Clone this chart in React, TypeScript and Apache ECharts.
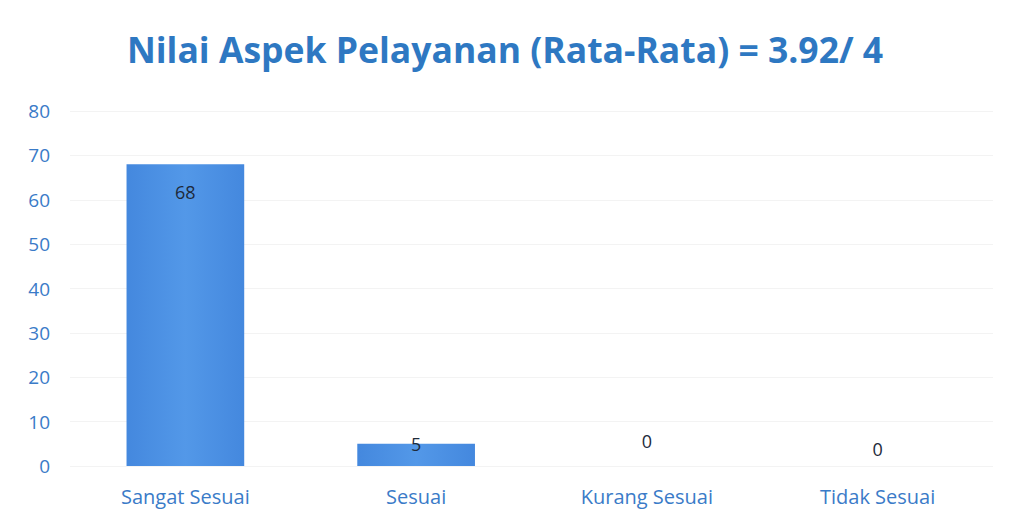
import React, { useEffect, useRef } from "react";
import * as echarts from "echarts";

const categories = ["Sangat Sesuai", "Sesuai", "Kurang Sesuai", "Tidak Sesuai"];
const values = [68, 5, 0, 0];
const titleText = "Nilai Aspek Pelayanan (Rata-Rata) = 3.92/ 4";

export default function App() {
  const ref = useRef<HTMLDivElement>(null);
  useEffect(() => {
    const chart = echarts.init(ref.current!, null, { renderer: "svg" });
    const data = values.map((v, i) => {
      if (i === 0) {
        return { value: v, label: { show: true, position: "insideTop", distance: 19 } };
      }
      if (i === 1) {
        return { value: v, label: { show: true, position: "top", distance: -9 } };
      }
      return { value: v, label: { show: true, position: "top", distance: i === 2 ? 16 : 8 } };
    });
    chart.setOption({
      animation: false,
      backgroundColor: "#ffffff",
      title: {
        text: titleText,
        left: "center",
        top: 18,
        textStyle: {
          fontFamily: "Open Sans",
          fontWeight: "bold",
          fontSize: 35.5,
          color: "#2E78C2",
        },
      },
      grid: { left: 62, right: 9, top: 103, bottom: 44 },
      xAxis: {
        type: "category",
        data: categories,
        axisLine: { show: false },
        axisTick: { show: false },
        axisLabel: {
          color: "#3A7BC8",
          fontFamily: "Open Sans",
          fontSize: 20,
          margin: 20,
        },
      },
      yAxis: {
        type: "value",
        min: 0,
        max: 80,
        interval: 10,
        axisLine: { show: false },
        axisTick: { show: false },
        axisLabel: {
          color: "#3A7BC8",
          fontFamily: "Open Sans",
          fontSize: 19,
          margin: 20,
        },
        splitLine: { lineStyle: { color: "#F3F3F3", width: 1 } },
      },
      series: [
        {
          type: "bar",
          data,
          barWidth: "51%",
          itemStyle: {
            color: new echarts.graphic.LinearGradient(0, 0, 1, 0, [
              { offset: 0, color: "#4488DE" },
              { offset: 0.5, color: "#5398E8" },
              { offset: 1, color: "#4488DE" },
            ]),
          },
          label: {
            color: "#1E2A3A",
            fontFamily: "Open Sans",
            fontSize: 18,
          },
        },
      ],
    });
    return () => chart.dispose();
  }, []);
  return <div ref={ref} style={{ width: 994, height: 502 }} />;
}
